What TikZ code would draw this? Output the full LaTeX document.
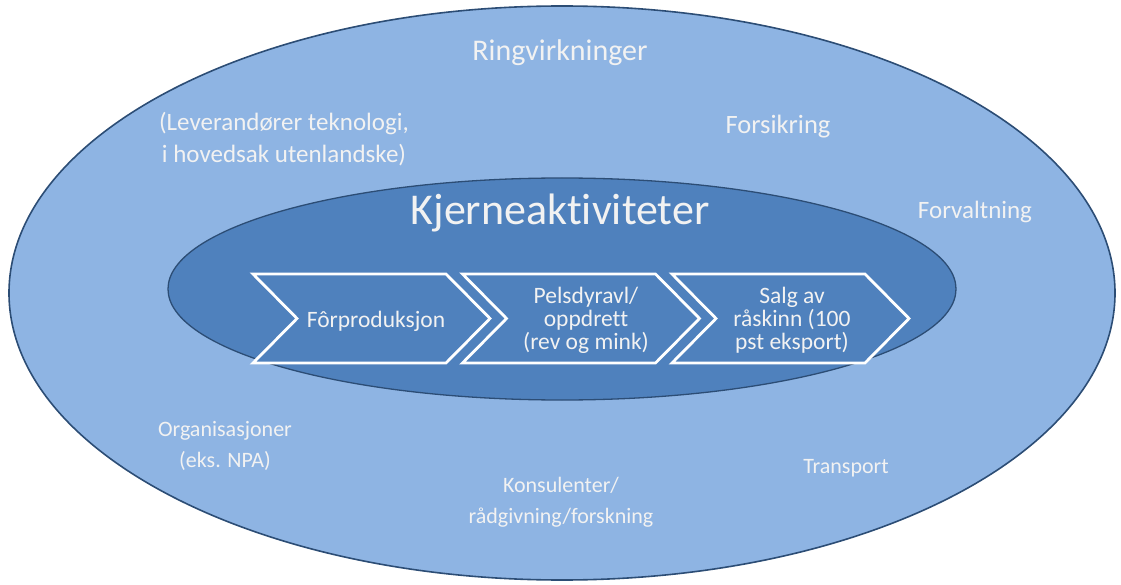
\documentclass[tikz,border=0pt]{standalone}
\usepackage{fontspec}
\setmainfont{Carlito}[Ligatures=NoCommon]
\definecolor{outerfill}{HTML}{8EB4E3}
\definecolor{innerfill}{HTML}{4F81BD}
\definecolor{edgeblue}{HTML}{2C4D75}
\definecolor{txt}{HTML}{F2F2F2}
\tikzset{
  lbl/.style={text=txt, font=\fontsize{22}{31}\selectfont, align=center, inner sep=0pt},
  biglbl/.style={lbl, font=\fontsize{25}{32}\selectfont},
  ttl/.style={text=txt, font=\fontsize{30}{36}\selectfont, inner sep=0pt},
  chev/.style={draw=white, line width=2.8pt, fill=innerfill, line join=miter},
  chevtxt/.style={text=txt, font=\fontsize{23.5}{23}\selectfont, align=center, inner sep=0pt}
}
\begin{document}
\begin{tikzpicture}[x=1pt,y=-1pt]
\useasboundingbox (0,0) rectangle (1121,585);
% outer ellipse
\draw[fill=outerfill, draw=edgeblue, line width=1.6pt] (562,293) ellipse [x radius=553, y radius=287];
% inner ellipse
\draw[fill=innerfill, draw=edgeblue, line width=1.3pt] (562,289) ellipse [x radius=394, y radius=111];
% chevrons
\foreach \L in {253,462.5,672}{
  \draw[chev] (\L,274) -- ({\L+193},274) -- ({\L+237},318.5) -- ({\L+193},363) -- (\L,363) -- ({\L+44},318.5) -- cycle;
}
\node[chevtxt] (c1) at (376,321) {Fôrproduksjon};
\node[chevtxt] (c2) at (586,320) {Pelsdyravl/\\oppdrett\\(rev og mink)};
\node[chevtxt] (c3) at (792,320) {Salg av\\råskinn (100\\pst eksport)};
% titles
\node[ttl] (ring) at (560,53) {Ringvirkninger};
\node[ttl, font=\fontsize{44}{50}\selectfont] (kjerne) at (560,213) {Kjerneaktiviteter};
% labels
\node[biglbl] (lev) at (284,139) {(Leverandører teknologi,\\i hovedsak utenlandske)};
\node[biglbl, font=\fontsize{26.5}{32}\selectfont] (fors) at (778,127) {Forsikring};
\node[biglbl] (forv) at (975,212) {Forvaltning};
\node[lbl] (org) at (225,446) {Organisasjoner\\(eks. NPA)};
\node[lbl] (kons) at (561,502) {Konsulenter/\\rådgivning/forskning};
\node[lbl] (tran) at (846,468) {Transport};
\end{tikzpicture}
\end{document}
